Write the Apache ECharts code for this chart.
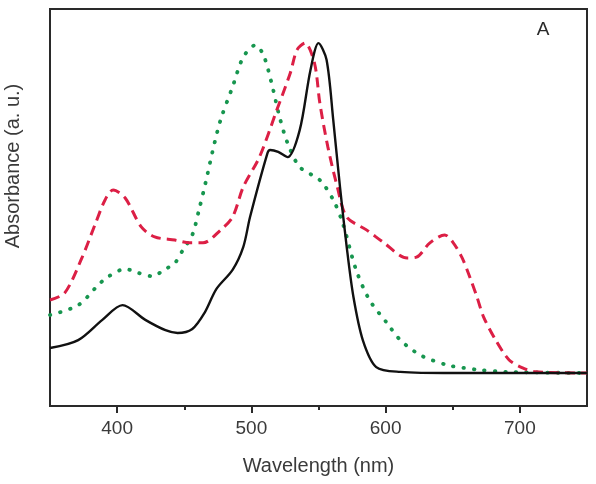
<!DOCTYPE html>
<html>
<head>
<meta charset="utf-8">
<script src="https://cdn.jsdelivr.net/npm/echarts@6/dist/echarts.min.js"></script>
<style>
  html, body { margin: 0; padding: 0; background: #fff; }
  #main { width: 596px; height: 484px; }
</style>
</head>
<body>
<div id="main"></div>
<script>
// wavelength (nm) and absorbance (a. u., 0-100)
var blackWl = [350, 371, 389, 404, 421, 436, 445, 456, 465, 474, 486, 494, 499, 512, 514, 520, 527, 536, 544, 550, 556, 561, 566, 571, 576, 583, 593, 611, 650, 700, 750];
var blackAbs = [14.6, 16.6, 21.7, 25.4, 21.7, 19.1, 18.4, 19.4, 23.4, 29.5, 34.3, 40.1, 47.6, 63.7, 64.5, 64.0, 62.7, 69.5, 84.6, 91.4, 87.2, 72.0, 55.2, 40.1, 27.5, 16.6, 9.8, 8.6, 8.3, 8.3, 8.3];

var redWl = [350, 361, 374, 384, 391, 397, 406, 418, 428, 443, 454, 464, 477, 486, 494, 506, 519, 529, 534, 540, 547, 551, 557, 564, 571, 586, 598, 616, 623, 633, 644, 650, 657, 663, 668, 673, 682, 692, 702, 712, 750];
var redAbs = [26.7, 28.5, 37.5, 46.1, 51.9, 54.4, 52.4, 45.1, 42.6, 41.8, 41.1, 41.1, 44.3, 47.6, 55.2, 62.7, 74.6, 83.9, 89.7, 91.4, 86.4, 76.3, 65.2, 55.2, 47.6, 44.3, 41.3, 37.3, 37.5, 41.1, 43.1, 41.3, 37.3, 32.2, 27.5, 22.4, 16.6, 11.6, 9.6, 8.6, 8.3];

var greenWl = [350, 371, 386, 393, 406, 416, 426, 436, 443, 449, 456, 461, 466, 471, 477, 486, 494, 503, 509, 515, 521, 527, 536, 551, 561, 568, 578, 588, 601, 611, 626, 646, 658, 670, 690, 750];
var greenAbs = [22.9, 25.4, 30.5, 32.5, 34.5, 33.5, 32.7, 34.5, 36.0, 39.3, 43.1, 49.4, 56.4, 64.0, 72.0, 80.4, 87.9, 90.9, 88.4, 81.4, 72.8, 66.2, 60.2, 56.9, 51.9, 46.1, 34.3, 26.7, 20.9, 16.6, 12.8, 10.3, 9.6, 9.1, 8.6, 8.3];

var majorTicks = [400, 500, 600, 700];
var minorTicks = [450, 550, 650];

function pairs(xs, ys) {
    return xs.map(function (x, i) { return [x, ys[i]]; });
}

var myChart = echarts.init(document.getElementById('main'), null, { renderer: 'canvas' });
var font = 'Liberation Sans, Arial, sans-serif';

var option = {
    animation: false,
    grid: {
        left: 50, right: 9, top: 9, bottom: 78,
        show: true,
        borderColor: '#2a2a2a',
        borderWidth: 2
    },
    xAxis: [
        {
            type: 'value',
            min: 350, max: 750,
            name: 'Wavelength (nm)',
            nameLocation: 'middle',
            nameGap: 50,
            nameTextStyle: { fontFamily: font, fontSize: 20, color: '#3a3a3a' },
            axisLine: { show: true, lineStyle: { color: '#2a2a2a', width: 2 } },
            axisTick: { show: true, customValues: majorTicks, length: 7, lineStyle: { color: '#2a2a2a', width: 2 } },
            axisLabel: { customValues: majorTicks, margin: 13, fontFamily: font, fontSize: 19, color: '#3a3a3a' },
            splitLine: { show: false }
        },
        {
            type: 'value',
            min: 350, max: 750,
            position: 'bottom',
            axisLine: { show: false },
            axisTick: { show: true, customValues: minorTicks, length: 4, lineStyle: { color: '#2a2a2a', width: 2 } },
            axisLabel: { show: false },
            splitLine: { show: false }
        }
    ],
    yAxis: {
        type: 'value',
        min: 0, max: 100,
        axisLine: { show: false },
        axisTick: { show: false },
        axisLabel: { show: false },
        splitLine: { show: false }
    },
    graphic: [
        {
            type: 'text',
            x: 13, y: 166,
            rotation: Math.PI / 2,
            style: {
                text: 'Absorbance (a. u.)',
                font: '20px ' + font,
                fill: '#3a3a3a',
                align: 'center',
                verticalAlign: 'middle'
            }
        },
        {
            type: 'text',
            x: 543, y: 30,
            style: {
                text: 'A',
                font: '19px ' + font,
                fill: '#2a2a2a',
                align: 'center',
                verticalAlign: 'middle'
            }
        }
    ],
    series: [
        {
            name: 'green',
            type: 'line',
            data: pairs(greenWl, greenAbs),
            smooth: 0.3,
            showSymbol: false,
            lineStyle: { color: '#17964f', width: 3.8, type: [0.5, 10], cap: 'round' }
        },
        {
            name: 'red',
            type: 'line',
            data: pairs(redWl, redAbs),
            smooth: 0.3,
            showSymbol: false,
            lineStyle: { color: '#dc1f45', width: 3, type: [10, 6] }
        },
        {
            name: 'black',
            type: 'line',
            data: pairs(blackWl, blackAbs),
            smooth: 0.3,
            showSymbol: false,
            lineStyle: { color: '#111', width: 2.4 }
        }
    ]
};

myChart.setOption(option);
window.addEventListener('resize', myChart.resize);
</script>
</body>
</html>
